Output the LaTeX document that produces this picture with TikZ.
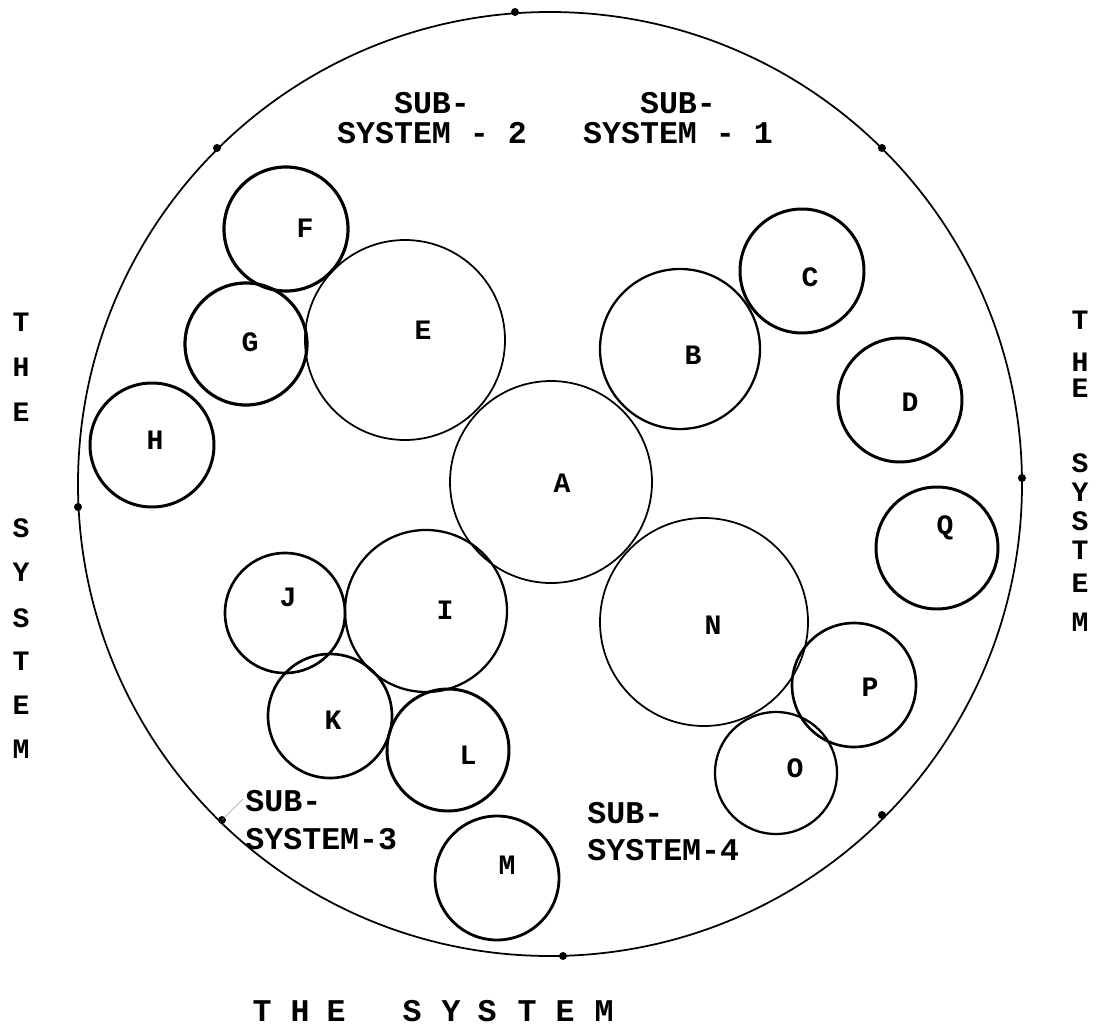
\documentclass[tikz,border=0pt]{standalone}
\usepackage{fontspec}
\setmonofont{Liberation Mono}

\tikzset{
	tag/.style={font=\ttfamily\bfseries\fontsize{16}{16}\selectfont, inner sep=0pt},
	subsys/.style={font=\ttfamily\bfseries\fontsize{18}{17.5}\selectfont, inner sep=0pt},
	sysletter/.style={font=\ttfamily\bfseries\fontsize{16}{16}\selectfont, inner sep=0pt},
	rimdot/.style={fill=black}
}

\begin{document}
\begin{tikzpicture}[x=0.02cm, y=-0.02cm]
	\useasboundingbox (0,0) rectangle (1100,1028);
	
	% the system (outer circle)
	\draw[line width=1pt] (550,484) circle (472);
	\foreach \px/\py [count=\i] in {515/12, 882/148, 1022/478, 882/815, 563/956, 222/820, 78/507, 217/148} {
		\fill[rimdot] (\px,\py) circle (4);
		\coordinate (rim\i) at (\px,\py);
	}
	
	% elements: name/centre x/centre y/radius/label x/label y/line width
	\foreach \n/\cx/\cy/\r/\lx/\ly/\w in {
		A/551/482/101/562/483/1.0, B/680/349/80/693/355/1.3, C/802/271/62/810/277/1.7,
		D/900/400/62/910/402/1.7, E/405/340/100/423/330/1.0, F/286/229/62/305/228/1.8,
		G/246/344/61/250/342/1.8, H/152/445/62/155/440/1.7, I/426/611/81/445/610/1.3,
		J/285/613/60/288/597/1.5, K/330/716/62/333/720/1.5, L/448/750/61/468/755/1.7,
		M/497/878/62/507/865/1.6, N/704/622/104/713/625/1.0, O/776/773/61/795/768/1.3,
		P/854/685/62/870/687/1.5, Q/937/548/61/945/528/1.7} {
		\draw[line width=\w pt] (\cx,\cy) circle (\r);
		\node[tag] (\n) at (\lx,\ly) {\n};
	}
	
	% sub-system labels
	\node[subsys, align=center] (ss2) at (432,118) {SUB-\\SYSTEM - 2};
	\node[subsys, align=center] (ss1) at (678,118) {SUB-\\SYSTEM - 1};
	\node[subsys, align=left, anchor=west, font=\ttfamily\bfseries\fontsize{18}{22}\selectfont] (ss3) at (245,820) {SUB-\\SYSTEM-3};
	\node[subsys, align=left, anchor=west, font=\ttfamily\bfseries\fontsize{18}{21}\selectfont] (ss4) at (587,832) {SUB-\\SYSTEM-4};
	\coordinate (ss3tip) at (243,799);
	\draw[very thin, gray] (rim6) -- (ss3tip);
	
	% "THE SYSTEM" left, right and below
	\foreach \ch/\yy [count=\i] in {T/322, H/367, E/412, S/528, Y/572, S/618, T/661, E/705, M/749}
		\node[sysletter] (left\i) at (21,\yy) {\ch};
	\foreach \ch/\yy [count=\i] in {T/320, H/362, E/388, S/463, Y/492, S/521, T/550, E/583, M/622}
		\node[sysletter] (right\i) at (1080,\yy) {\ch};
	\foreach \ch/\xx [count=\i] in {T/262, H/300, E/336, S/412, Y/451, S/487, T/527, E/565, M/604}
		\node[subsys] (bottom\i) at (\xx,1011) {\ch};
	
\end{tikzpicture}
\end{document}
